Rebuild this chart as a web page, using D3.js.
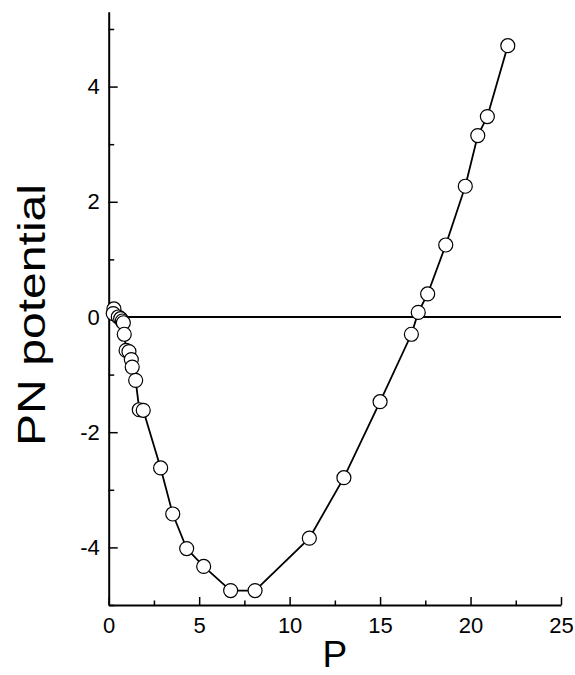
<!DOCTYPE html>
<html>
<head>
<meta charset="utf-8">
<script src="https://cdn.jsdelivr.net/npm/d3@7"></script>
<style>
  html, body { margin: 0; padding: 0; background: #fff; }
  svg { display: block; font-family: "Liberation Sans", Arial, Helvetica, sans-serif; }
</style>
</head>
<body>
<svg id="chart" width="575" height="675"></svg>
<script>
// Peierls–Nabarro potential versus P
const pValues = [0.29, 0.25, 0.53, 0.66, 0.75, 0.81, 0.86, 0.96, 1.12, 1.25, 1.30, 1.49, 1.69, 1.91,
                 2.87, 3.54, 4.31, 5.25, 6.74, 8.09, 11.09, 13.0, 15.0, 16.73, 17.11, 17.63,
                 18.63, 19.71, 20.40, 20.93, 22.06];
const pnValues = [0.14, 0.06, 0.00, -0.03, -0.07, -0.10, -0.30, -0.58, -0.60, -0.74, -0.87, -1.10, -1.61, -1.62,
                  -2.62, -3.42, -4.02, -4.33, -4.75, -4.75, -3.84, -2.79, -1.47, -0.30, 0.08, 0.40,
                  1.25, 2.27, 3.15, 3.48, 4.71];

const xMajorTicks = [0, 5, 10, 15, 20, 25];
const xMinorTicks = [2.5, 7.5, 12.5, 17.5, 22.5];
const yMajorTicks = [-4, -2, 0, 2, 4];
const yMinorTicks = [-5, -3, -1, 1, 3, 5];

const xLabel = "P";
const yLabel = "PN potential";

const svg = d3.select("#chart");
const plotLeft = 108.7, plotRight = 561, plotTop = 11.7, plotBottom = 605;

const x = d3.scaleLinear().domain([0, 25]).range([plotLeft, plotRight]);
const y = d3.scaleLinear().domain([-5, 5.3]).range([plotBottom, plotTop]);

// plain hyphen-minus tick labels
const tickText = d => String(d);

// minor ticks (inward, no labels)
svg.append("g")
  .attr("transform", `translate(0,${plotBottom})`)
  .call(d3.axisBottom(x).tickValues(xMinorTicks).tickSize(-4.5).tickSizeOuter(0).tickFormat(""))
  .call(g => g.select(".domain").remove())
  .call(g => g.selectAll("line").attr("stroke-width", 1.5));
svg.append("g")
  .attr("transform", `translate(${plotLeft},0)`)
  .call(d3.axisLeft(y).tickValues(yMinorTicks).tickSize(-5.5).tickSizeOuter(0).tickFormat(""))
  .call(g => g.select(".domain").remove())
  .call(g => g.selectAll("line").attr("stroke-width", 1.5));

// major ticks with labels
const xAxis = svg.append("g")
  .attr("transform", `translate(0,${plotBottom})`)
  .call(d3.axisBottom(x).tickValues(xMajorTicks).tickSize(-8).tickSizeOuter(0).tickPadding(12).tickFormat(tickText));
xAxis.selectAll("text").attr("font-size", 22).attr("fill", "#000").attr("font-family", "Liberation Sans, Arial, sans-serif");
xAxis.selectAll("line").attr("stroke-width", 1.5);
xAxis.select(".domain").attr("stroke-width", 2);

const yAxis = svg.append("g")
  .attr("transform", `translate(${plotLeft},0)`)
  .call(d3.axisLeft(y).tickValues(yMajorTicks).tickSize(-9).tickSizeOuter(0).tickPadding(9).tickFormat(tickText));
yAxis.selectAll("text").attr("font-size", 22).attr("fill", "#000").attr("font-family", "Liberation Sans, Arial, sans-serif");
yAxis.selectAll("line").attr("stroke-width", 1.5);
yAxis.select(".domain").attr("stroke-width", 2);

// zero reference line
svg.append("line")
  .attr("x1", x(0)).attr("x2", x(25))
  .attr("y1", y(0)).attr("y2", y(0))
  .attr("stroke", "#000").attr("stroke-width", 1.8);

// data curve
const pts = pValues.map((p, i) => [p, pnValues[i]]);
svg.append("path")
  .datum(pts)
  .attr("fill", "none")
  .attr("stroke", "#000")
  .attr("stroke-width", 1.8)
  .attr("d", d3.line().x(d => x(d[0])).y(d => y(d[1])));

// open circle markers
svg.append("g")
  .selectAll("circle")
  .data(pts)
  .join("circle")
  .attr("cx", d => x(d[0]))
  .attr("cy", d => y(d[1]))
  .attr("r", 7)
  .attr("fill", "#fff")
  .attr("stroke", "#000")
  .attr("stroke-width", 1.2);

// axis titles
svg.append("text")
  .attr("x", (plotLeft + plotRight) / 2)
  .attr("y", 667)
  .attr("text-anchor", "middle")
  .attr("font-size", 37)
  .text(xLabel);

svg.append("text")
  .attr("transform", `translate(45,315) rotate(-90)`)
  .attr("text-anchor", "middle")
  .attr("font-size", 38)
  .attr("textLength", 262)
  .attr("lengthAdjust", "spacingAndGlyphs")
  .text(yLabel);
</script>
</body>
</html>
